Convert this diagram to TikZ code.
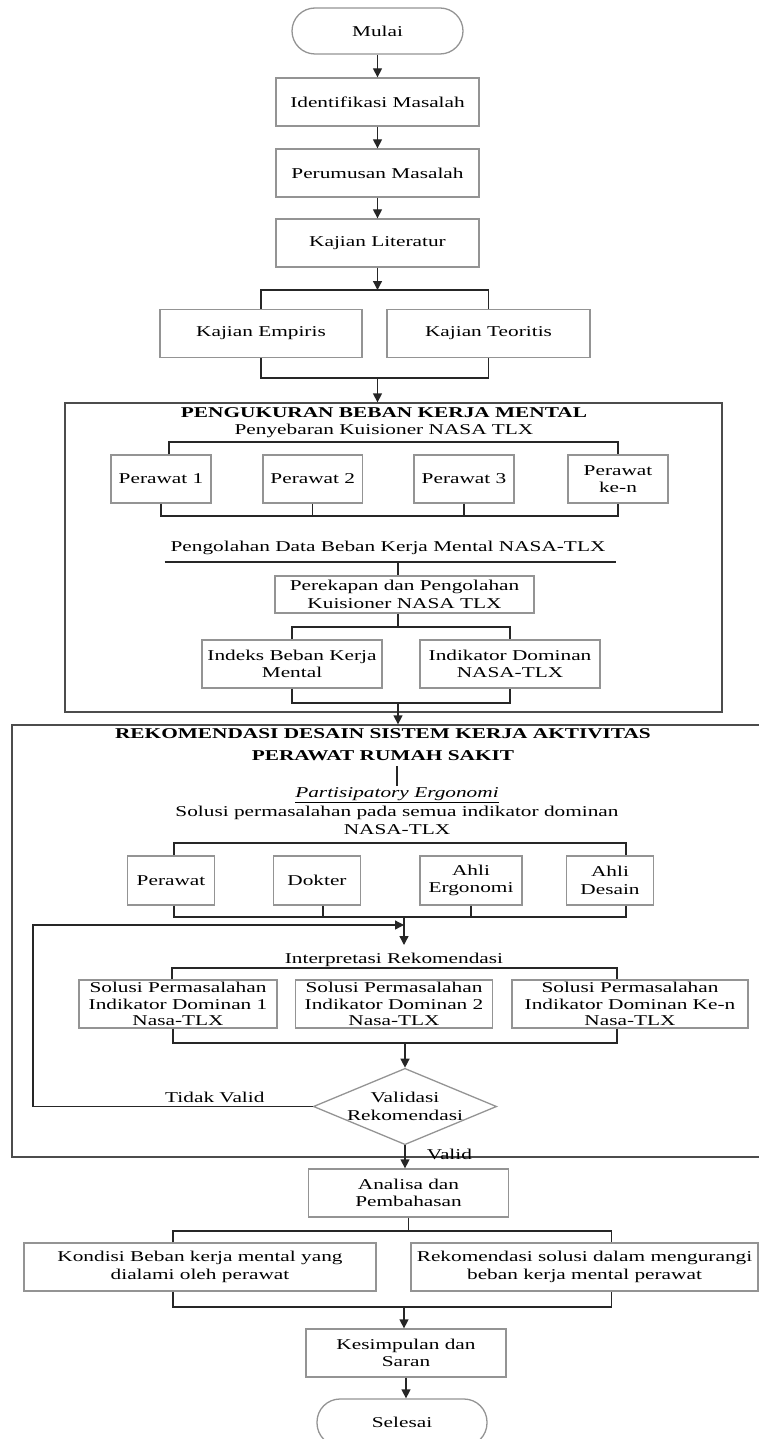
\documentclass[tikz,border=0pt]{standalone}
\usepackage{fontspec}
\setmainfont{Liberation Serif}[FakeStretch=1.42]
\usepackage{tikz}
\usetikzlibrary{arrows.meta}
\usetikzlibrary{shapes.geometric}
\tikzstyle{flow}=[x=1pt, y=-1pt, font=\fontsize{15}{17.5}\selectfont]
\tikzstyle{box}=[rectangle, draw=black!42, line width=1.3pt, align=center, inner sep=2pt, minimum height=48pt]
\tikzstyle{box3}=[box, inner sep=0pt, font=\fontsize{15}{16.5}\selectfont]
\tikzstyle{term}=[rectangle, rounded corners=23pt, draw=black!42, line width=1.3pt, minimum width=171pt, minimum height=46pt]
\tikzstyle{dec}=[diamond, aspect=2.4, inner sep=0pt, draw=black!42, line width=1.3pt, align=center]
\tikzstyle{panel}=[rectangle, draw=black!70, line width=1.3pt, inner sep=0pt]
\tikzstyle{lbl}=[inner sep=1pt, align=center]
\tikzstyle{head}=[lbl, font=\fontsize{15}{22}\selectfont\bfseries]
\tikzstyle{wire}=[draw=black!85, line width=1.3pt]
\tikzstyle{edge}=[wire, -{Triangle[length=9pt, width=9pt]}]

\begin{document}
\begin{tikzpicture}[flow]
	\clip (0,0) rectangle (759,1439);
	\draw (377.5,31) node[term] (mulai) {Mulai};
	\draw (377.5,102) node[box, minimum width=203pt] (ident) {Identifikasi Masalah};
	\draw (377.5,173) node[box, minimum width=203pt] (rumus) {Perumusan Masalah};
	\draw (377.5,243) node[box, minimum width=203pt] (kajian) {Kajian Literatur};
	\draw (261,333.5) node[box, minimum width=202pt] (empiris) {Kajian Empiris};
	\draw (488.5,333.5) node[box, minimum width=203pt] (teoritis) {Kajian Teoritis};
	\coordinate (s1) at (377.5,290);
	\coordinate (j1) at (377.5,378);
	\draw[edge] (mulai) -- (ident);
	\draw[edge] (ident) -- (rumus);
	\draw[edge] (rumus) -- (kajian);
	\draw[edge] (kajian) -- (s1);
	\draw[wire] (empiris.north) |- (s1) -| (teoritis.north);
	\draw[wire] (empiris.south) |- (j1) -| (teoritis.south);

	\draw (393.5,557.5) node[panel, minimum width=657pt, minimum height=309pt] (ukur) {};
	\draw[edge] (j1) -- (j1 |- ukur.north);
	\draw (384,413) node[head] (ukurtitle) {PENGUKURAN BEBAN KERJA MENTAL};
	\draw (384,431) node[lbl] (sebar) {Penyebaran Kuisioner NASA TLX};
	\draw (161,479) node[box, minimum width=100pt] (p1) {Perawat 1};
	\draw (312.75,479) node[box, minimum width=99.5pt] (p2) {Perawat 2};
	\draw (464,479) node[box, minimum width=100pt] (p3) {Perawat 3};
	\draw (618,479) node[box, minimum width=100pt] (pn) {Perawat\\ke-n};
	\coordinate (s2) at (390,442);
	\coordinate (j2) at (390,516);
	\draw[wire] ([xshift=8pt]p1.north) |- (s2) -| (pn.north);
	\draw[wire] (p1.south) |- (j2) -| (pn.south);
	\draw[wire] (p2.south) -- (p2.south |- j2);
	\draw[wire] (p3.south) -- (p3.south |- j2);
	\draw (388,548) node[lbl] (olah) {Pengolahan Data Beban Kerja Mental NASA-TLX};
	\coordinate (olahL) at (164.5,562);
	\coordinate (olahR) at (615.5,562);
	\coordinate (s3) at (398,562);
	\draw[wire] (olahL) -- (olahR);
	\draw (404.5,594.5) node[box, minimum width=259pt, minimum height=37pt] (rekap) {Perekapan dan Pengolahan\\Kuisioner NASA TLX};
	\draw[wire] (s3) -- (s3 |- rekap.north);
	\coordinate (s4) at (398,627);
	\coordinate (j3) at (398,703);
	\draw[wire] (s4 |- rekap.south) -- (s4);
	\draw (292,664) node[box, minimum width=180pt] (indeks) {Indeks Beban Kerja\\Mental};
	\draw (510,664) node[box, minimum width=180pt] (dominan) {Indikator Dominan\\NASA-TLX};
	\draw[wire] (indeks.north) |- (s4) -| (dominan.north);
	\draw[wire] (indeks.south) |- (j3) -| (dominan.south);

	\draw (406,941) node[panel, minimum width=788pt, minimum height=432pt] (reko) {};
	\draw[edge] (j3) -- (j3 |- reko.north);
	\draw (383,745) node[head] (rekotitle) {REKOMENDASI DESAIN SISTEM KERJA AKTIVITAS\\PERAWAT RUMAH SAKIT};
	\draw (397,795) node[lbl] (partis) {\underline{\textit{Partisipatory Ergonomi}}};
	\draw[wire] ([yshift=-4pt]rekotitle.south -| partis.north) -- (partis.north);
	\draw (397,820.5) node[lbl] (solusi) {Solusi permasalahan pada semua indikator dominan\\NASA-TLX};
	\draw (171,880.5) node[box, minimum width=87pt, minimum height=49pt] (perawat) {Perawat};
	\draw (317,880.5) node[box, minimum width=87pt, minimum height=49pt] (dokter) {Dokter};
	\draw (471,880.5) node[box, minimum width=102pt, minimum height=49pt] (ergo) {Ahli\\Ergonomi};
	\draw (610,880.5) node[box, minimum width=87pt, minimum height=49pt] (desain) {Ahli\\Desain};
	\coordinate (s5) at (400,843);
	\coordinate (j4) at (404,917);
	\coordinate (back) at (404,925);
	\coordinate (loop) at (33,925);
	\draw[wire] ([xshift=3pt]perawat.north) |- (s5) -| ([xshift=16pt]desain.north);
	\draw[wire] ([xshift=3pt]perawat.south) |- (j4) -| ([xshift=16pt]desain.south);
	\draw[wire] ([xshift=6pt]dokter.south) -- ([xshift=6pt]dokter.south |- j4);
	\draw[wire] (ergo.south) -- (ergo.south |- j4);
	\draw (394,960) node[lbl, inner ysep=8pt] (interp) {Interpretasi Rekomendasi};
	\draw[edge] (j4) -- (j4 |- interp.north);
	\draw (178,1004) node[box3, minimum width=198pt] (sol1) {Solusi Permasalahan\\Indikator Dominan 1\\Nasa-TLX};
	\draw (394,1004) node[box3, minimum width=197pt] (sol2) {Solusi Permasalahan\\Indikator Dominan 2\\Nasa-TLX};
	\draw (630,1004) node[box3, minimum width=236pt] (soln) {Solusi Permasalahan\\Indikator Dominan Ke-n\\Nasa-TLX};
	\coordinate (s6) at (405,968);
	\coordinate (j5) at (405,1043);
	\draw[wire] ([xshift=-6pt]sol1.north) |- (s6) -| ([xshift=-13pt]soln.north);
	\draw[wire] ([xshift=-5pt]sol1.south) |- (j5) -| ([xshift=-13pt]soln.south);
	\draw (405,1106.5) node[dec] (valid) {Validasi\\Rekomendasi};
	\draw[edge] (j5) -- (valid.north);
	\draw[edge] (valid.west) -- node[pos=0.35, above] {Tidak Valid} (valid.west -| loop) -- (loop) -- (back);

	\draw (408.5,1193) node[box, minimum width=200pt] (analisa) {Analisa dan\\Pembahasan};
	\draw[edge] (valid.south) -- node[pos=0.4, right=18pt] {Valid} (valid.south |- analisa.north);
	\draw (200,1267) node[box, minimum width=352pt] (kondisi) {Kondisi Beban kerja mental yang\\dialami oleh perawat};
	\draw (584.5,1267) node[box, minimum width=347pt] (rekosol) {Rekomendasi solusi dalam mengurangi\\beban kerja mental perawat};
	\coordinate (s7) at (409,1231);
	\coordinate (j6) at (404,1307);
	\draw[wire] (analisa.south) -- (analisa.south |- s7);
	\draw[wire] ([xshift=-27pt]kondisi.north) |- (s7) -| ([xshift=27pt]rekosol.north);
	\draw[wire] ([xshift=-27pt]kondisi.south) |- (j6) -| ([xshift=27pt]rekosol.south);
	\draw (406,1353) node[box, minimum width=200pt] (simpul) {Kesimpulan dan\\Saran};
	\draw[edge] (j6) -- (j6 |- simpul.north);
	\draw (402,1422.5) node[term, minimum width=170pt, minimum height=47pt] (selesai) {Selesai};
	\draw[edge] (simpul.south) -- (simpul.south |- selesai.north);
\end{tikzpicture}
\end{document}
